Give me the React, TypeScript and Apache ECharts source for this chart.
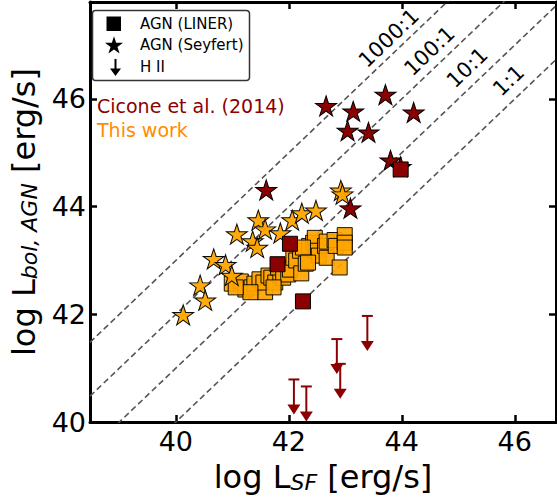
import React, { useEffect, useRef } from 'react';
import * as echarts from 'echarts';

const FONT = 'DejaVu Sans';

// axis ranges
const X_RANGE = [38.48, 46.73];
const Y_RANGE = [40, 47.8];

// This work (orange)
const thisWorkSquares: number[][] = [
  [40.99, 42.57], [41.15, 42.61], [41.23, 42.46], [41.34, 42.5], [41.39, 42.57],
  [41.48, 42.65], [41.58, 42.41], [41.55, 42.59], [41.64, 42.72], [41.69, 42.68],
  [41.76, 42.59], [41.85, 42.72], [41.81, 42.87], [41.9, 42.68], [41.99, 42.74],
  [42.02, 42.83], [42.08, 43.05], [42.13, 43.0], [42.2, 43.18], [42.22, 42.76],
  [42.3, 42.94], [42.36, 43.27], [42.43, 43.33], [42.46, 43.42], [42.48, 43.18],
  [42.53, 43.09], [42.64, 43.27], [42.67, 43.05], [42.67, 43.35], [42.81, 43.38],
  [42.83, 43.27], [42.99, 43.47], [42.99, 43.33], [42.99, 43.24], [42.9, 42.87],
  [42.25, 43.24], [42.34, 42.96], [41.32, 42.41], [41.06, 42.5], [41.73, 42.5],
];
const thisWorkStars: number[][] = [
  [40.13, 41.99], [40.43, 42.54], [40.52, 42.26], [40.67, 43.03], [40.88, 42.92],
  [40.99, 42.72], [41.08, 43.49], [41.36, 43.36], [41.44, 43.24], [41.46, 43.75],
  [41.58, 43.58], [41.85, 43.51], [42.06, 43.75], [42.23, 43.88], [42.48, 43.93],
  [42.92, 44.3], [42.95, 44.23],
];

// Cicone et al. (2014) (dark red)
const ciconeStars: number[][] = [
  [42.66, 45.87], [43.14, 45.77], [43.71, 46.08], [44.21, 45.75], [43.04, 45.41],
  [43.41, 45.38], [43.8, 44.86], [43.98, 44.74], [43.09, 43.97], [41.6, 44.31],
];
const ciconeSquares: number[][] = [
  [43.98, 44.69], [42.02, 43.31], [41.8, 42.93], [42.25, 42.24],
];
const ciconeUpperLimits: number[][] = [
  [42.09, 40.79], [42.31, 40.66], [42.85, 41.54], [42.91, 41.08], [43.39, 41.97],
];

// ratio reference lines  L_AGN = ratio * L_SF
const ratioOffsets = [0, 1, 2, 3];
const ratioLabels = ['1:1', '10:1', '100:1', '1000:1'];
const ratioLabelPos: number[][] = [
  [45.89, 46.34], [45.16, 46.58], [44.49, 46.89], [43.77, 47.13],
];

const legendLabels = ['AGN (LINER)', 'AGN (Seyfert)', 'H II'];

const ARROW_LEN = 0.65;
const DARKRED = '#8B0000';
const ORANGE = '#FFA500';

function starPoints(cx: number, cy: number, R: number): number[][] {
  const r = R * 0.382;
  const pts: number[][] = [];
  for (let i = 0; i < 10; i++) {
    const a = -Math.PI / 2 + (i * Math.PI) / 5;
    const rad = i % 2 === 0 ? R : r;
    pts.push([cx + rad * Math.cos(a), cy + rad * Math.sin(a)]);
  }
  return pts;
}
const STAR_PATH =
  'path://' +
  starPoints(0, 0, 10)
    .map((p, i) => (i ? 'L' : 'M') + p[0].toFixed(3) + ' ' + p[1].toFixed(3))
    .join(' ') +
  ' Z';

const tickFormatter = (v: number) =>
  Math.abs(v / 2 - Math.round(v / 2)) < 1e-9 ? String(v) : '';

function buildOption(): any {
  const axisLine = { show: true, onZero: false, lineStyle: { color: '#000', width: 3 } };
  const axisTick = { show: true, inside: true, length: 7, lineStyle: { color: '#000', width: 2.5 } };
  const ratioSeries = ratioOffsets.map((k) => ({
    type: 'line',
    data: [
      [X_RANGE[0], X_RANGE[0] + k],
      [X_RANGE[1], X_RANGE[1] + k],
    ],
    symbol: 'none',
    silent: true,
    clip: true,
    z: 1,
    lineStyle: { color: '#555', width: 1.6, type: [6, 3.5] },
  }));

  return {
    animation: false,
    textStyle: { fontFamily: FONT },
    grid: { left: 85, right: 1, top: 2, bottom: 72, containLabel: false },
    xAxis: [
      {
        type: 'value',
        position: 'bottom',
        min: X_RANGE[0],
        max: X_RANGE[1],
        splitNumber: 4,
        axisLine,
        axisTick,
        splitLine: { show: false },
        axisLabel: {
          color: '#000',
          fontSize: 27,
          fontFamily: FONT,
          margin: 6,
          showMinLabel: false,
          showMaxLabel: false,
          formatter: tickFormatter,
        },
        name: 'log L{sub|SF} [erg/s]',
        nameLocation: 'middle',
        nameGap: 39,
        nameTextStyle: {
          color: '#000',
          fontSize: 32,
          fontFamily: FONT,
          lineHeight: 32,
          rich: {
            sub: { fontSize: 22, fontStyle: 'italic', fontFamily: FONT, color: '#000', lineHeight: 18, verticalAlign: 'bottom' },
          },
        },
      },
      {
        type: 'value',
        position: 'top',
        min: X_RANGE[0],
        max: X_RANGE[1],
        splitNumber: 4,
        axisLine,
        axisTick,
        splitLine: { show: false },
        axisLabel: { show: false },
      },
    ],
    yAxis: [
      {
        type: 'value',
        position: 'left',
        min: Y_RANGE[0],
        max: Y_RANGE[1],
        interval: 2,
        axisLine,
        axisTick,
        splitLine: { show: false },
        axisLabel: {
          color: '#000',
          fontSize: 27,
          fontFamily: FONT,
          margin: 4,
          showMaxLabel: false,
          formatter: tickFormatter,
        },
        name: 'log L{sub|bol, AGN} [erg/s]',
        nameLocation: 'middle',
        nameRotate: 90,
        nameGap: 50,
        nameTextStyle: {
          color: '#000',
          fontSize: 32,
          fontFamily: FONT,
          lineHeight: 32,
          rich: {
            sub: { fontSize: 22, fontStyle: 'italic', fontFamily: FONT, color: '#000', lineHeight: 18, verticalAlign: 'bottom' },
          },
        },
      },
      {
        type: 'value',
        position: 'right',
        min: Y_RANGE[0],
        max: Y_RANGE[1],
        interval: 2,
        axisLine,
        axisTick,
        splitLine: { show: false },
        axisLabel: { show: false },
      },
    ],
    series: [
      ...ratioSeries,
      {
        type: 'custom',
        data: ratioLabelPos,
        z: 1,
        silent: true,
        clip: false,
        renderItem: (params: any, api: any) => {
          const x = api.value(0);
          const y = api.value(1);
          const p = api.coord([x, y]);
          const p2 = api.coord([x + 1, y + 1]);
          const ang = Math.atan2(p[1] - p2[1], p2[0] - p[0]);
          return {
            type: 'text',
            x: p[0],
            y: p[1],
            rotation: ang,
            style: {
              text: ratioLabels[params.dataIndex],
              fontSize: 21,
              fontFamily: FONT,
              fill: '#000',
              align: 'center',
              verticalAlign: 'middle',
            },
          };
        },
      },
      {
        type: 'scatter',
        data: thisWorkSquares,
        symbol: 'rect',
        symbolSize: 15,
        z: 3,
        itemStyle: { color: ORANGE, borderColor: '#000', borderWidth: 1, opacity: 0.92 },
      },
      {
        type: 'scatter',
        data: thisWorkStars,
        symbol: STAR_PATH,
        symbolSize: [21, 20],
        z: 3,
        itemStyle: { color: ORANGE, borderColor: '#000', borderWidth: 1, opacity: 0.95 },
      },
      {
        type: 'scatter',
        data: ciconeStars,
        symbol: STAR_PATH,
        symbolSize: [21, 20],
        z: 4,
        itemStyle: { color: DARKRED, borderColor: '#000', borderWidth: 1, opacity: 1 },
      },
      {
        type: 'scatter',
        data: ciconeSquares,
        symbol: 'rect',
        symbolSize: 15,
        z: 4,
        itemStyle: { color: DARKRED, borderColor: '#000', borderWidth: 1, opacity: 1 },
      },
      {
        type: 'custom',
        data: ciconeUpperLimits,
        z: 4,
        clip: false,
        renderItem: (params: any, api: any) => {
          const x = api.value(0);
          const y = api.value(1);
          const top = api.coord([x, y]);
          const bot = api.coord([x, y - ARROW_LEN]);
          return {
            type: 'group',
            children: [
              {
                type: 'line',
                shape: { x1: top[0], y1: top[1], x2: bot[0], y2: bot[1] - 6 },
                style: { stroke: DARKRED, lineWidth: 2 },
              },
              {
                type: 'line',
                shape: { x1: top[0] - 5.5, y1: top[1], x2: top[0] + 5.5, y2: top[1] },
                style: { stroke: DARKRED, lineWidth: 2 },
              },
              {
                type: 'polygon',
                shape: {
                  points: [
                    [bot[0] - 6.5, bot[1] - 10],
                    [bot[0] + 6.5, bot[1] - 10],
                    [bot[0], bot[1]],
                  ],
                },
                style: { fill: DARKRED },
              },
            ],
          };
        },
      },
    ],
    graphic: [
      {
        type: 'rect',
        z: 100,
        shape: { x: 92.5, y: 10.5, width: 157, height: 70, r: 3 },
        style: { fill: '#fff', stroke: '#333', lineWidth: 1.5 },
      },
      {
        type: 'rect',
        z: 101,
        shape: { x: 106.5, y: 16.5, width: 14.5, height: 14.5 },
        style: { fill: '#000' },
      },
      {
        type: 'polygon',
        z: 101,
        shape: { points: starPoints(114, 45.8, 9.5) },
        style: { fill: '#000' },
      },
      {
        type: 'line',
        z: 101,
        shape: { x1: 115.5, y1: 59, x2: 115.5, y2: 71 },
        style: { stroke: '#000', lineWidth: 2 },
      },
      {
        type: 'polygon',
        z: 101,
        shape: { points: [[110, 68.5], [121, 68.5], [115.5, 76]] },
        style: { fill: '#000' },
      },
      ...legendLabels.map((t, i) => ({
        type: 'text',
        z: 101,
        x: 140,
        y: [23.5, 45, 67][i],
        style: { text: t, fontSize: 15, fontFamily: FONT, fill: '#000', verticalAlign: 'middle' },
      })),
      {
        type: 'text',
        z: 101,
        x: 97,
        y: 106,
        style: { text: 'Cicone et al. (2014)', fontSize: 19, fontFamily: FONT, fill: DARKRED, verticalAlign: 'middle' },
      },
      {
        type: 'text',
        z: 101,
        x: 97,
        y: 130,
        style: { text: 'This work', fontSize: 19, fontFamily: FONT, fill: '#FF8C00', verticalAlign: 'middle' },
      },
    ],
  };
}

export default function App() {
  const ref = useRef<HTMLDivElement>(null);
  useEffect(() => {
    document.body.style.margin = '0';
    const chart = echarts.init(ref.current as HTMLDivElement, undefined, { renderer: 'svg' });
    chart.setOption(buildOption());
    return () => chart.dispose();
  }, []);
  return <div ref={ref} style={{ width: 557, height: 498 }} />;
}
